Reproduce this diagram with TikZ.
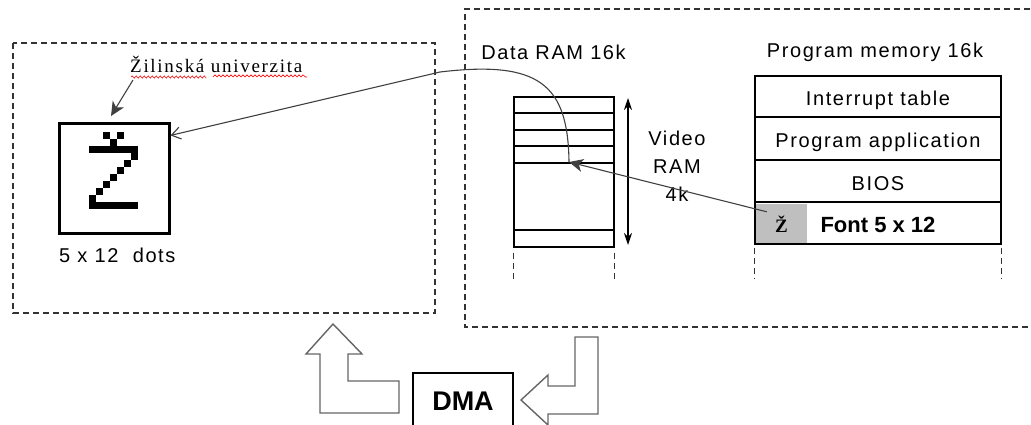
\documentclass[tikz,border=0pt]{standalone}
\usepackage{fontspec}
\setmainfont{Liberation Sans}
\newfontfamily\uisans{Liberation Sans}[LetterSpace=8]
\newfontfamily\uiserif{Liberation Serif}[LetterSpace=9]
\newfontfamily\plainserif{Liberation Serif}
\usetikzlibrary{arrows.meta,calc,decorations.pathmorphing}

\begin{document}
\begin{tikzpicture}[x=1pt,y=-1pt,
  frame/.style={draw=black!80, dash pattern=on 6pt off 4pt, line width=1.2pt},
  memrow/.style={draw=black, line width=1.6pt, minimum width=246pt, inner sep=0pt,
    text height=18pt, text depth=0pt, font=\uisans\fontsize{20}{23}\selectfont},
  lbl/.style={inner sep=0pt, font=\uisans\fontsize{20}{23}\selectfont},
  wire/.style={draw=black!75, line width=1.1pt},
  bent/.style={draw=black!60, line width=1.4pt, fill=white},
  ramline/.style={draw=black, line width=1.4pt},
]
\useasboundingbox (0,0) rectangle (1031,424);

% --- dashed frames: screen side and microcontroller side
\draw[frame] (13,43) rectangle (435,313);
\draw[frame] (1040,9) -- (465,9) -- (465,327) -- (1040,327);

% --- displayed character on the screen
\node[draw, line width=3pt, minimum size=110pt, inner sep=0pt] (zbox) at (114,178) {};
\foreach \c/\r in {2/0,4/0,3/1,6/3,5/4,4/5,3/6,2/7,1/8,0/9}
  \fill (89+\c*7,132+\r*7) rectangle ++(7,7);
\fill (89,146) rectangle (138,153);
\fill (89,202) rectangle (138,209);

\node[lbl, anchor=base west] (dots) at (59,262) {5 x 12\ \ dots};
\node[inner sep=0pt, anchor=base west, font=\uiserif\fontsize{19}{22}\selectfont]
  (zil) at (130,72.7) {Žilinská univerzita};
\draw[red, line width=0.6pt, decorate,
  decoration={snake, amplitude=1.1pt, segment length=4pt}]
  (131,77) -- (205,77) (213,77) -- (307,77);

% --- data RAM
\node[lbl, anchor=base] (dlabel) at (553.5,59) {Data RAM 16k};
\node[ramline, minimum width=100pt, minimum height=150pt, inner sep=0pt] (dram) at (564,172) {};
\foreach \yy in {113,130,146,163,230}
  \draw[ramline] (dram.west |- 0,\yy) -- (dram.east |- 0,\yy);
\draw[frame] (dram.south west) ++(0,5) -- ++(0,28);
\draw[frame] (dram.south east) ++(0,5) -- ++(0,28);

\coordinate (va1) at (628,98);
\coordinate (va2) at (628,245);
\draw[line width=1.4pt, {Stealth[length=12pt,width=8pt]}-{Stealth[length=12pt,width=8pt]}] (va1) -- (va2);
\node[lbl, anchor=base] (vr1) at (677,145) {Video};
\node[lbl, anchor=base] (vr2) at (677,173) {RAM};
\node[lbl, anchor=base] (vr3) at (677,201) {4k};

% --- program memory
\node[lbl, anchor=base] (plabel) at (875,57.5) {Program memory 16k};
\node[memrow, minimum height=41pt] (pm1) at (878,96.5) {Interrupt table};
\node[memrow, minimum height=43pt] (pm2) at (878,138.5) {Program application};
\node[memrow, minimum height=42pt] (pm3) at (878,181) {BIOS};
\node[memrow, minimum height=42pt, font=\fontsize{22}{24}\selectfont\bfseries] (pm4) at (878,223) {Font 5 x 12};
\node[fill=black!25, minimum width=51pt, minimum height=39pt, inner sep=0pt,
  text height=17pt, text depth=0pt, font=\plainserif\bfseries\fontsize{19}{22}\selectfont]
  (fz) at (781.5,223.5) {Ž};
\draw[frame] (pm4.south west) ++(0,3) -- ++(0,31);
\draw[frame] (pm4.south east) ++(0,3) -- ++(0,31);

% --- data paths
\coordinate (vr) at (569,162);
\coordinate (fzs) at ($(fz.north west)+(11,8)$);
\draw[wire, -{Stealth[length=14pt,width=13pt,inset=4pt]}] (fzs) -- (vr);
\draw[wire, -{Straight Barb[length=9pt,width=12pt]}]
  (vr) .. controls (568,85) and (540,60) .. (440,72) -- (zbox.37);
\coordinate (zt) at (133,80);
\coordinate (zh) at (111,116);
\draw[wire, -{Stealth[length=14pt,width=13pt,inset=4pt]}] (zt) -- (zh);

% --- DMA transfer
\node[draw, line width=1.5pt, minimum width=100pt, minimum height=54pt, inner sep=0pt,
  text height=20pt, text depth=0pt, font=\fontsize{27}{30}\selectfont\bfseries]
  (dma) at (463,400) {DMA};
\draw[bent] (333,324) -- (362,354) -- (348,354) -- (348,381) -- (399,381)
  -- (399,413) -- (320,413) -- (320,354) -- (306,354) -- cycle;
\draw[bent] (575,337) -- (598,337) -- (598,414) -- (548,414) -- (548,425)
  -- (521,400) -- (548,375) -- (548,386) -- (575,386) -- cycle;
\end{tikzpicture}
\end{document}
